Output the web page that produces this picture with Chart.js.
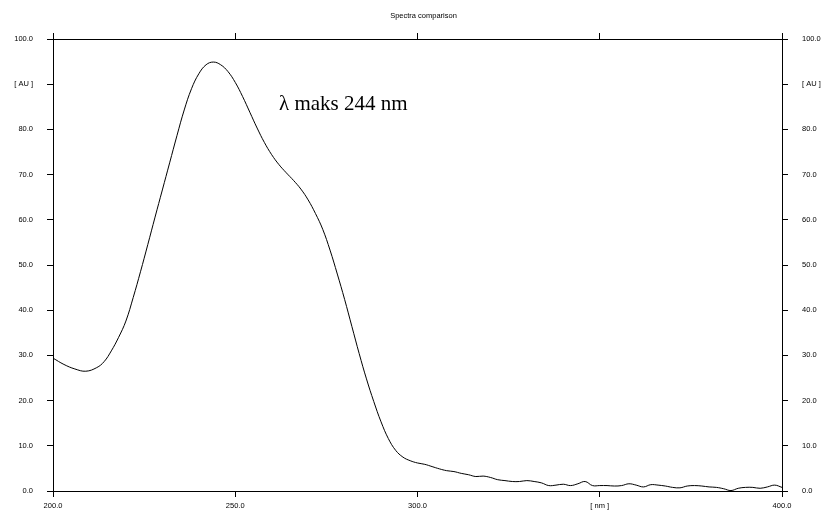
<!DOCTYPE html>
<html>
<head>
<meta charset="utf-8">
<script src="https://cdn.jsdelivr.net/npm/chart.js@4.4.1/dist/chart.umd.min.js"></script>
<style>
  body { margin: 0; background: #fff; }
  #wrap { width: 822px; height: 510px; }
</style>
</head>
<body>
<div id="wrap"><canvas id="myChart" width="822" height="510"></canvas></div>
<script>
// wavelength [nm] and absorbance [AU]
const wavelengths = [200, 203, 206, 209, 212, 214, 216, 218, 220, 222, 224, 226, 228, 230, 232, 234, 236, 238, 240, 242,
    244, 246, 248, 250, 252, 254, 256, 258, 260, 262, 264, 266, 268, 270, 272, 274, 276, 278, 280, 282,
    284, 286, 288, 290, 292, 294, 296, 298, 300, 302, 304, 306, 308, 310, 312, 314, 316, 318, 320, 322,
    324, 326, 328, 330, 332, 334, 336, 338, 340, 342, 344, 346, 348, 350, 352, 354, 356, 358, 360, 362,
    364, 366, 368, 370, 372, 374, 376, 378, 380, 382, 384, 386, 388, 390, 392, 394, 396, 398, 400]
const absorbance = [29.4, 28.0, 27.0, 26.5, 27.3, 28.6, 31.0, 34.0, 37.6, 42.8, 48.5, 54.5, 60.6, 66.6, 72.6, 78.6, 84.3, 89.0, 92.3, 94.3,
    94.9, 94.3, 92.8, 90.4, 87.3, 83.8, 80.3, 77.1, 74.4, 72.2, 70.4, 68.7, 66.8, 64.4, 61.4, 57.9, 53.3, 48.0, 42.4, 36.4,
    30.4, 24.8, 19.8, 15.3, 11.6, 9.0, 7.5, 6.7, 6.2, 5.9, 5.4, 4.9, 4.5, 4.3, 3.9, 3.6, 3.2, 3.3, 3.0, 2.5,
    2.3, 2.1, 2.1, 2.3, 2.1, 1.8, 1.2, 1.3, 1.5, 1.2, 1.6, 2.1, 1.2, 1.2, 1.2, 1.1, 1.2, 1.6, 1.3, 0.9,
    1.4, 1.3, 1.1, 0.8, 0.7, 1.1, 1.2, 1.1, 0.9, 0.8, 0.5, 0.1, 0.6, 0.8, 0.8, 0.6, 0.9, 1.3, 0.8]

const xTicks = [200, 250, 300, 350, 400]
const xTickLabels = ['200.0', '250.0', '300.0', '[ nm ]', '400.0']
const yTicks = [0, 10, 20, 30, 40, 50, 60, 70, 80, 90, 100]
const yTickLabels = ['0.0', '10.0', '20.0', '30.0', '40.0', '50.0', '60.0', '70.0', '80.0', '[ AU ]', '100.0']

const chartTitle = 'Spectra comparison'
const peakNote = 'λ maks 244 nm'
const peakNoteAt = {x: 262, y: 84.4}

const points = wavelengths.map((w, i) => ({x: w, y: absorbance[i]}))
const tickFont = {family: 'Liberation Sans', size: 7.5}

function axisGrid() {
    return {drawOnChartArea: false, drawTicks: true, tickLength: 6, color: '#000', lineWidth: 1}
}

function xLabel(v) {
    const i = xTicks.indexOf(v)
    return i >= 0 ? xTickLabels[i] : ''
}
function yLabel(v) {
    const i = yTicks.indexOf(v)
    return i >= 0 ? yTickLabels[i] : ''
}

const textPlugin = {
    id: 'texts',
    afterDraw(chart) {
        const c = chart.ctx
        const a = chart.chartArea
        c.save()
        c.fillStyle = '#000'
        c.font = '7.5px "Liberation Sans"'
        c.textAlign = 'center'
        c.textBaseline = 'middle'
        c.fillText(chartTitle, (a.left + a.right) / 2 + 6, 15.5)
        // peak annotation placed in data coordinates
        c.font = '21px "Liberation Serif"'
        c.textAlign = 'left'
        c.textBaseline = 'alphabetic'
        c.fillText(peakNote, chart.scales.x.getPixelForValue(peakNoteAt.x), chart.scales.y.getPixelForValue(peakNoteAt.y))
        c.restore()
    }
}

new Chart(document.getElementById('myChart'), {
    type: 'line',
    data: {
        datasets: [{
            data: points,
            borderColor: '#000',
            borderWidth: 1,
            pointRadius: 0,
            tension: 0.4,
            fill: false
        }]
    },
    options: {
        responsive: false,
        animation: false,
        layout: {padding: 0},
        plugins: {legend: {display: false}, tooltip: {enabled: false}},
        scales: {
            x: {
                type: 'linear', position: 'bottom', min: 200, max: 400,
                grid: axisGrid(), border: {color: '#000'},
                afterBuildTicks: s => { s.ticks = xTicks.map(v => ({value: v})) },
                ticks: {font: tickFont, color: '#000', padding: 4, maxRotation: 0, autoSkip: false, callback: xLabel},
                afterFit: s => { s.height = 19 }
            },
            xTop: {
                type: 'linear', position: 'top', min: 200, max: 400,
                grid: axisGrid(), border: {color: '#000'},
                afterBuildTicks: s => { s.ticks = xTicks.map(v => ({value: v})) },
                ticks: {callback: () => ''},
                afterFit: s => { s.height = 39 }
            },
            y: {
                position: 'left', min: 0, max: 100,
                grid: axisGrid(), border: {color: '#000'},
                afterBuildTicks: s => { s.ticks = yTicks.map(v => ({value: v})) },
                ticks: {font: tickFont, color: '#000', padding: 14, callback: yLabel},
                afterFit: s => { s.width = 53 }
            },
            yRight: {
                position: 'right', min: 0, max: 100,
                grid: axisGrid(), border: {color: '#000'},
                afterBuildTicks: s => { s.ticks = yTicks.map(v => ({value: v})) },
                ticks: {font: tickFont, color: '#000', padding: 14, callback: yLabel},
                afterFit: s => { s.width = 40 }
            }
        }
    },
    plugins: [textPlugin]
});
</script>
</body>
</html>
